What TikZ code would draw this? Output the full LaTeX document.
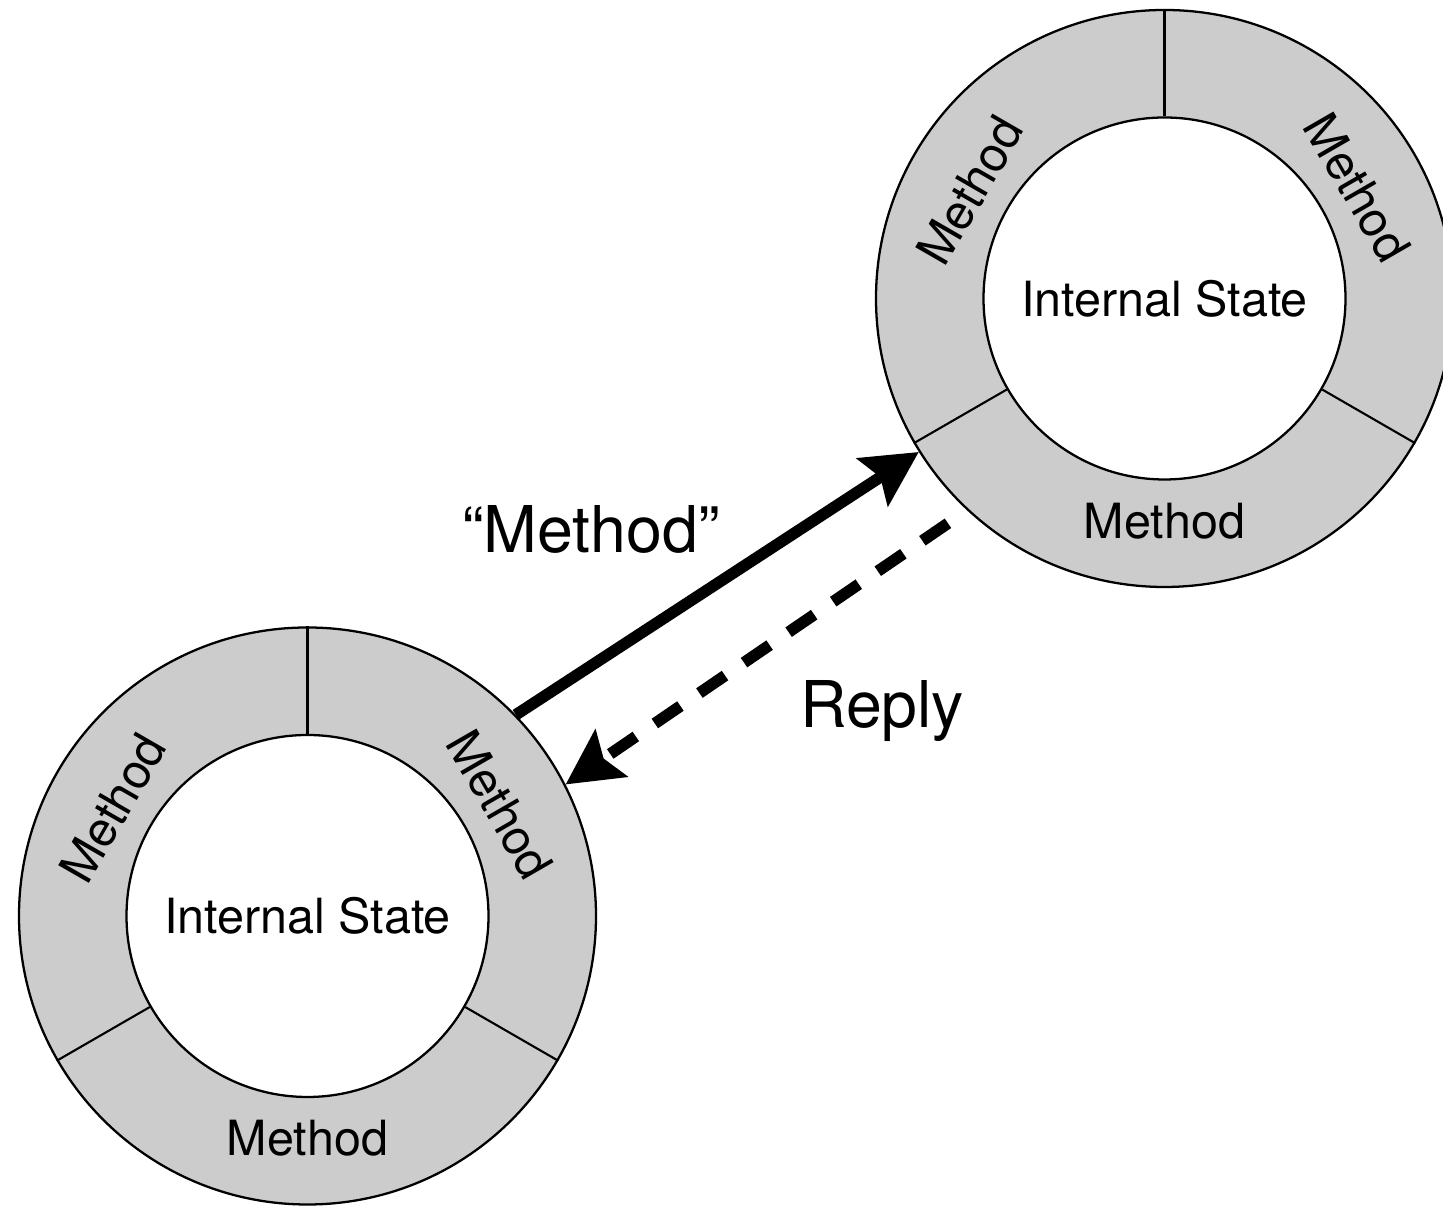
\documentclass[tikz,border=0pt]{standalone}
\usepackage{fontspec}
\setmainfont{TeX Gyre Heros}
\usepackage{tikz}
\usetikzlibrary{arrows.meta}
\definecolor{ringgray}{RGB}{204,204,204}
\tikzset{
  ring/.style={circle, draw=black, fill=ringgray, line width=1.3pt, minimum size=11.54cm,
               inner sep=0pt},
  core/.style={circle, draw=black, fill=white, line width=1.3pt, minimum size=7.24cm,
               inner sep=0pt, font=\fontsize{27.6}{31}\selectfont},
  divider/.style={line width=1.2pt},
  meth/.style={font=\fontsize{27.6}{31}\selectfont, inner sep=0pt},
  msglbl/.style={font=\fontsize{36.7}{42}\selectfont, anchor=base, inner sep=0pt},
  callarrow/.style={-{Stealth[length=1.1cm, width=1.12cm, inset=0.18cm]}, line width=0.23cm},
  replyarrow/.style={callarrow, dash pattern=on 0.62cm off 0.46cm, dash phase=0.62cm}
}

\begin{document}
\begin{tikzpicture}
\useasboundingbox (0,0) rectangle (28.86,24.14);
\foreach \ring/\pos in {l/{6.15,5.82}, r/{23.29,18.17}} {
  \node[ring] (\ring-ring) at (\pos) {};
  \node[core] (\ring-core) at (\pos) {Internal State};
  \foreach \a in {90,210,330}
    \draw[divider] (\ring-core.\a) -- (\ring-ring.\a);
  \path (\ring-core.center) ++(151:4.45) node[meth, rotate=60] (\ring-m1) {Method};
  \path (\ring-core.center) ++(30:4.45) node[meth, rotate=-60] (\ring-m2) {Method};
  \path (\ring-core.center) ++(270:4.45) node[meth] (\ring-m3) {Method};
}
\draw[callarrow] (l-ring.44) -- (r-ring.212);
\draw[replyarrow] (r-ring.227) -- (l-ring.27);
\node[msglbl] (calllbl) at (11.82,13.08) {“Method”};
\node[msglbl] (replylbl) at (17.64,9.58) {Reply};
\end{tikzpicture}
\end{document}
